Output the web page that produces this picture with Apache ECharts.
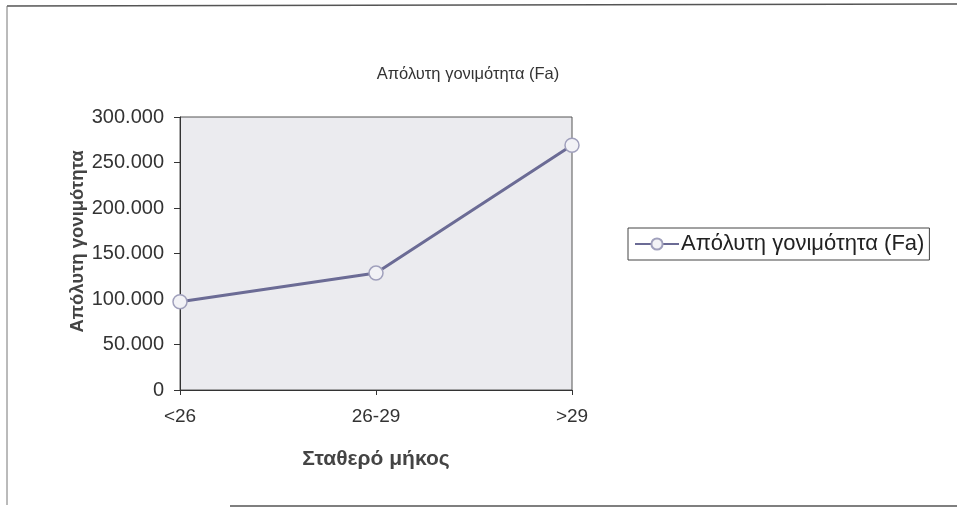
<!DOCTYPE html>
<html><head><meta charset="utf-8">
<script src="https://cdn.jsdelivr.net/npm/echarts@6/dist/echarts.min.js"></script>
<style>html,body{margin:0;padding:0;background:#fff}#c{width:957px;height:511px}</style>
</head><body><div id="c"></div>
<script>
const categories = ['<26', '26-29', '>29'];
const seriesName = 'Απόλυτη γονιμότητα (Fa)';
const values = [97000, 128500, 269000];
const titleText = 'Απόλυτη γονιμότητα (Fa)';
const xName = 'Σταθερό μήκος';
const yName = 'Απόλυτη γονιμότητα';

const chart = echarts.init(document.getElementById('c'));
const font = 'Liberation Sans, Arial, sans-serif';
chart.setOption({
  backgroundColor: '#fff',
  animation: false,
  title: { text: titleText, left: 463, top: 61, textAlign: 'center',
    textStyle: { fontFamily: font, fontSize: 16.5, fontWeight: 'normal', color: '#333' } },
  graphic: [
    { type: 'line', shape: { x1: 7, y1: 6, x2: 957, y2: 4 }, style: { stroke: '#555', lineWidth: 1.5 } },
    { type: 'line', shape: { x1: 7, y1: 6, x2: 7, y2: 505 }, style: { stroke: '#777', lineWidth: 1 } },
    { type: 'line', shape: { x1: 230, y1: 506, x2: 957, y2: 506 }, style: { stroke: '#555', lineWidth: 1.5 } }
  ],
  legend: {
    left: 628, top: 228, padding: [5, 5, 5, 6],
    borderColor: '#444', borderWidth: 1, itemGap: 4,
    itemWidth: 44, itemHeight: 14,
    textStyle: { fontFamily: font, fontSize: 22, color: '#222', padding: [0, 0, 0, -3] },
    data: [{ name: seriesName }]
  },
  grid: { left: 180, top: 117, width: 392, height: 273, show: true,
    backgroundColor: '#ebebef', borderColor: '#555', borderWidth: 1 },
  xAxis: {
    type: 'category', data: categories, boundaryGap: false,
    name: xName, nameLocation: 'middle', nameGap: 59,
    nameTextStyle: { fontFamily: font, fontSize: 21, fontWeight: 'bold', color: '#444' },
    axisLine: { lineStyle: { color: '#333' } },
    axisTick: { show: true, inside: false, length: 5, lineStyle: { color: '#333' } },
    axisLabel: { fontFamily: font, fontSize: 19, color: '#333', margin: 17 },
    splitLine: { show: false }
  },
  yAxis: {
    type: 'value', min: 0, max: 300000, interval: 50000,
    name: yName, nameLocation: 'middle', nameGap: 74,
    nameTextStyle: { fontFamily: font, fontSize: 18.5, fontWeight: 'bold', color: '#444', padding: [0, 0, 0, 24] },
    axisLine: { show: true, lineStyle: { color: '#333' } },
    axisTick: { show: true, length: 6, lineStyle: { color: '#333' } },
    axisLabel: { fontFamily: font, fontSize: 20, color: '#333', margin: 16,
      formatter: v => v === 0 ? '0' : String(v).replace(/\B(?=(\d{3})+(?!\d))/g, '.') },
    splitLine: { show: false }
  },
  series: [{
    name: seriesName, type: 'line', data: values,
    symbol: 'circle', symbolSize: 14,
    lineStyle: { color: '#6b6b95', width: 3 },
    itemStyle: { color: '#f2f2f6', borderColor: '#a0a0bc', borderWidth: 1.5 }
  }]
});
</script></body></html>
